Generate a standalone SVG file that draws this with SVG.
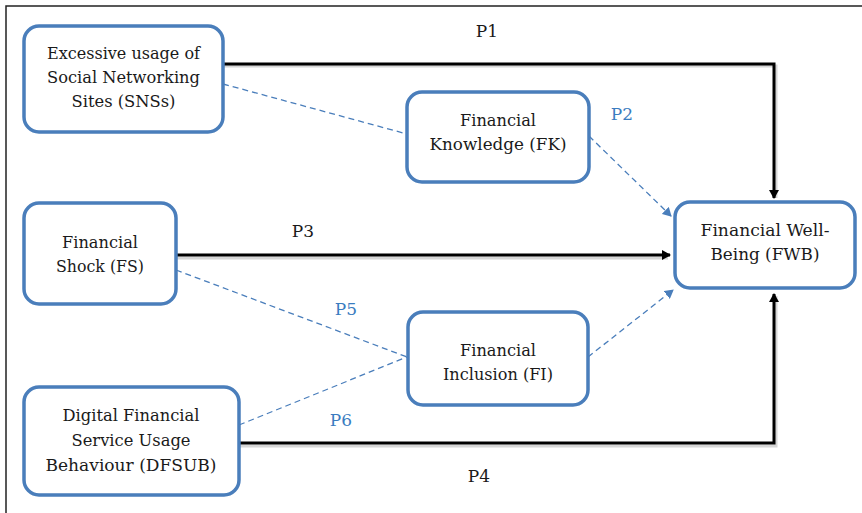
<svg xmlns="http://www.w3.org/2000/svg" width="862" height="513" viewBox="0 0 862 513">
<defs>
<style>
.box{fill:#fff;stroke:#4a7ebb;stroke-width:3.5}
.t{fill:#1a1a1a}
.lb{fill:#1a1a1a}
.lbb{fill:#3a7cc0}
.solid{fill:none;stroke:#000;stroke-width:3}
.shadow{fill:none;stroke:#bbb;stroke-width:3;opacity:0.6}
.dash{fill:none;stroke:#4a7ebb;stroke-width:1.3;stroke-dasharray:6,4}
</style>
<marker id="ab" markerWidth="10" markerHeight="10" refX="8" refY="5" orient="auto" markerUnits="userSpaceOnUse">
<path d="M0,0 L9,5 L0,10 Z" fill="#000"/>
</marker>
<marker id="abl" markerWidth="10" markerHeight="10" refX="8" refY="5" orient="auto" markerUnits="userSpaceOnUse">
<path d="M0,0 L9,5 L0,10 Z" fill="#4a7ebb"/>
</marker>
</defs>
<rect width="862" height="513" fill="#fff"/>
<path d="M6,513 L6,6 L862,6" fill="none" stroke="#222" stroke-width="1.5"/>

<g id="connectors">
<path class="shadow" d="M223,66 L776,66 L776,198"/>
<path class="shadow" d="M176,258 L668,258"/>
<path class="shadow" d="M239,446 L776,446 L776,296"/>
<path class="solid" d="M223,64 L774,64 L774,198" marker-end="url(#ab)"/>
<path class="solid" d="M176,255 L670,255" marker-end="url(#ab)"/>
<path class="solid" d="M239,443 L774,443 L774,294" marker-end="url(#ab)"/>
<path class="dash" d="M223,84 L407,134"/>
<path class="dash" d="M589,136 L671,216" marker-end="url(#abl)"/>
<path class="dash" d="M176,270 L407,357"/>
<path class="dash" d="M239,425 L407,357"/>
<path class="dash" d="M588,357 L673,290" marker-end="url(#abl)"/>
</g>

<g font-family="DejaVu Serif, Liberation Serif, serif" font-size="17" text-anchor="middle">
<g id="n-sns">
<rect class="box" x="24" y="26" width="199" height="106" rx="15"/>
<text class="t" x="123.5" y="59" textLength="153" lengthAdjust="spacingAndGlyphs">Excessive usage of</text>
<text class="t" x="123.5" y="83" textLength="153" lengthAdjust="spacingAndGlyphs">Social Networking</text>
<text class="t" x="123.5" y="107" textLength="104" lengthAdjust="spacingAndGlyphs">Sites (SNSs)</text>
</g>
<g id="n-fk">
<rect class="box" x="407" y="92" width="182" height="90" rx="15"/>
<text class="t" x="498" y="126" textLength="76" lengthAdjust="spacingAndGlyphs">Financial</text>
<text class="t" x="498" y="150" textLength="137" lengthAdjust="spacingAndGlyphs">Knowledge (FK)</text>
</g>
<g id="n-fs">
<rect class="box" x="24" y="203" width="152" height="101" rx="15"/>
<text class="t" x="100" y="248" textLength="76" lengthAdjust="spacingAndGlyphs">Financial</text>
<text class="t" x="100" y="272" textLength="88" lengthAdjust="spacingAndGlyphs">Shock (FS)</text>
</g>
<g id="n-fwb">
<rect class="box" x="675" y="202" width="180" height="86" rx="15"/>
<text class="t" x="765" y="236" textLength="129" lengthAdjust="spacingAndGlyphs">Financial Well-</text>
<text class="t" x="765" y="260" textLength="109" lengthAdjust="spacingAndGlyphs">Being (FWB)</text>
</g>
<g id="n-fi">
<rect class="box" x="408" y="312" width="180" height="93" rx="15"/>
<text class="t" x="498" y="356" textLength="76" lengthAdjust="spacingAndGlyphs">Financial</text>
<text class="t" x="498" y="380" textLength="110" lengthAdjust="spacingAndGlyphs">Inclusion (FI)</text>
</g>
<g id="n-dfsub">
<rect class="box" x="24" y="387" width="215" height="108" rx="15"/>
<text class="t" x="131" y="421" textLength="137" lengthAdjust="spacingAndGlyphs">Digital Financial</text>
<text class="t" x="131" y="446" textLength="119" lengthAdjust="spacingAndGlyphs">Service Usage</text>
<text class="t" x="131" y="471" textLength="171" lengthAdjust="spacingAndGlyphs">Behaviour (DFSUB)</text>
</g>

<g id="labels">
<text class="lb" x="487" y="37">P1</text>
<text class="lbb" x="622" y="120">P2</text>
<text class="lb" x="303" y="237">P3</text>
<text class="lbb" x="346" y="315">P5</text>
<text class="lbb" x="341" y="426">P6</text>
<text class="lb" x="479" y="482">P4</text>
</g>
</g>
</svg>
